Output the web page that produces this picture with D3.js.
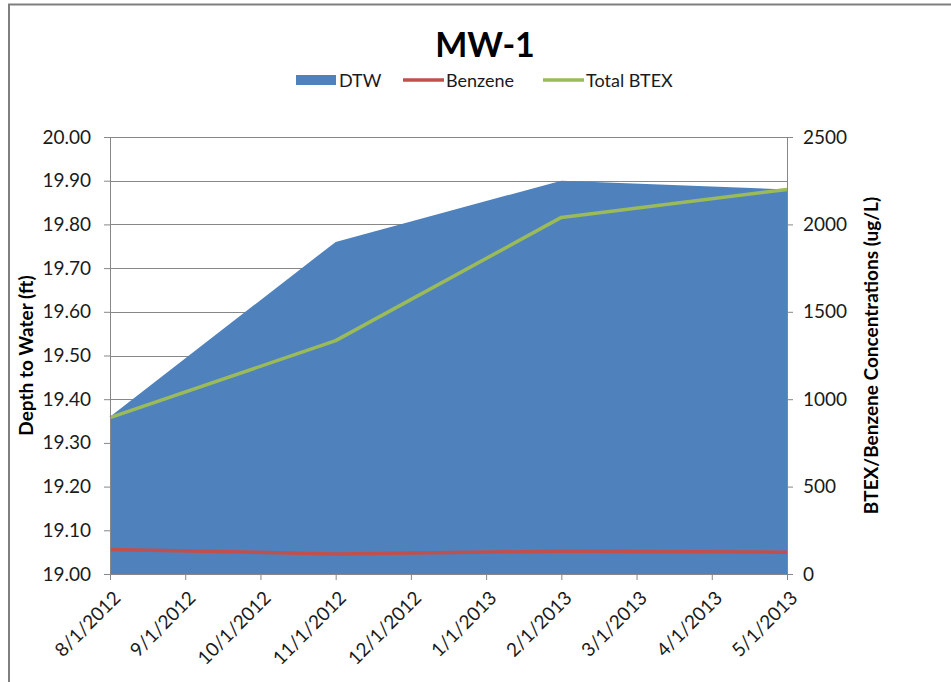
<!DOCTYPE html>
<html><head><meta charset="utf-8">
<script src="https://cdn.jsdelivr.net/npm/d3@7"></script>
<style>body{margin:0;background:#fff;} svg{display:block;font-family:Lato, "Open Sans", sans-serif;}</style>
</head><body>
<svg id="chart" width="951" height="682"></svg>
<script>
const months = ["8/1/2012","9/1/2012","10/1/2012","11/1/2012","12/1/2012","1/1/2013","2/1/2013","3/1/2013","4/1/2013","5/1/2013"];
const sampleDates = ["8/1/2012","11/1/2012","2/1/2013","5/1/2013"];
const dtw = [19.36, 19.76, 19.90, 19.88];
const benzene = [140, 115, 130, 125];
const totalBTEX = [895, 1335, 2040, 2200];
const leftTicks = [19.0,19.1,19.2,19.3,19.4,19.5,19.6,19.7,19.8,19.9,20.0];
const rightTicks = [0,500,1000,1500,2000,2500];

const svg = d3.select("#chart");
const m = {l:110, r:787, t:137, b:574};
const x = d3.scalePoint().domain(months).range([m.l, m.r]);
const yL = d3.scaleLinear().domain([19,20]).range([m.b, m.t]);
const yR = d3.scaleLinear().domain([0,2500]).range([m.b, m.t]);

// border
svg.append("path").attr("d", `M9,682 L9,4.5 L951,4.5`).attr("fill","none").attr("stroke","#7f7f7f").attr("stroke-width",2);

// gridlines
svg.append("g").selectAll("line").data(leftTicks.slice(1)).join("line")
  .attr("x1", m.l).attr("x2", m.r).attr("y1", d=>Math.round(yL(d))+0.5).attr("y2", d=>Math.round(yL(d))+0.5)
  .attr("stroke","#878787").attr("stroke-width",1);

// area
const pts = sampleDates.map((d,i)=>({d, dtw:dtw[i], bz:benzene[i], bt:totalBTEX[i]}));
svg.append("path").datum(pts)
  .attr("d", d3.area().x(p=>x(p.d)).y0(yL(19)).y1(p=>yL(p.dtw)))
  .attr("fill","#4F81BD");

// lines
svg.append("path").datum(pts)
  .attr("d", d3.line().x(p=>x(p.d)).y(p=>yR(p.bz)))
  .attr("fill","none").attr("stroke","#C0504D").attr("stroke-width",3.5).attr("stroke-linejoin","round");
svg.append("path").datum(pts)
  .attr("d", d3.line().x(p=>x(p.d)).y(p=>yR(p.bt)))
  .attr("fill","none").attr("stroke","#9BBB59").attr("stroke-width",3.5).attr("stroke-linejoin","round");

// axes
const axStyle = g => {
  g.selectAll("path.domain").attr("stroke","#878787");
  g.selectAll(".tick line").attr("stroke","#878787");
  g.selectAll("text").attr("font-family","Lato, sans-serif").attr("font-size","19px").attr("fill","#1a1a1a");
};
svg.append("g").attr("transform",`translate(${m.l},0)`)
  .call(d3.axisLeft(yL).tickValues(leftTicks).tickFormat(d3.format(".2f")).tickSize(6).tickSizeOuter(0).tickPadding(13))
  .call(axStyle);
svg.append("g").attr("transform",`translate(${m.r},0)`)
  .call(d3.axisRight(yR).tickValues(rightTicks).tickFormat(d3.format("d")).tickSize(6).tickSizeOuter(0).tickPadding(10))
  .call(axStyle);
const xg = svg.append("g").attr("transform",`translate(0,${m.b})`)
  .call(d3.axisBottom(x).tickSize(6).tickSizeOuter(0).tickPadding(6))
  .call(axStyle);
xg.selectAll("text").attr("text-anchor","end").attr("dy","0.35em")
  .attr("transform","translate(-2,12) rotate(-45)");

// axis titles
svg.append("text").attr("transform",`translate(33,${(m.t+m.b)/2}) rotate(-90)`)
  .attr("text-anchor","middle").attr("font-weight","bold").attr("font-size","19px").attr("fill","#000")
  .text("Depth to Water (ft)");
svg.append("text").attr("transform",`translate(878,${(m.t+m.b)/2}) rotate(-90)`)
  .attr("text-anchor","middle").attr("font-weight","bold").attr("font-size","19px").attr("fill","#000")
  .text("BTEX/Benzene Concentrations (ug/L)");

// title
svg.append("text").attr("x",485).attr("y",57).attr("text-anchor","middle")
  .attr("font-weight","bold").attr("font-size","34px").attr("fill","#000").text("MW-1");

// legend
const legend = [
  {name:"DTW", color:"#4F81BD", type:"rect", x:296},
  {name:"Benzene", color:"#C0504D", type:"line", x:403},
  {name:"Total BTEX", color:"#9BBB59", type:"line", x:543}
];
const lg = svg.append("g");
legend.forEach(l=>{
  if(l.type==="rect") lg.append("rect").attr("x",l.x).attr("y",75).attr("width",40).attr("height",10).attr("fill",l.color);
  else lg.append("line").attr("x1",l.x).attr("x2",l.x+41).attr("y1",80).attr("y2",80).attr("stroke",l.color).attr("stroke-width",3.5);
  lg.append("text").attr("x",l.x+43).attr("y",87).attr("font-size","18px").attr("fill","#1a1a1a").text(l.name);
});
</script>
</body></html>
